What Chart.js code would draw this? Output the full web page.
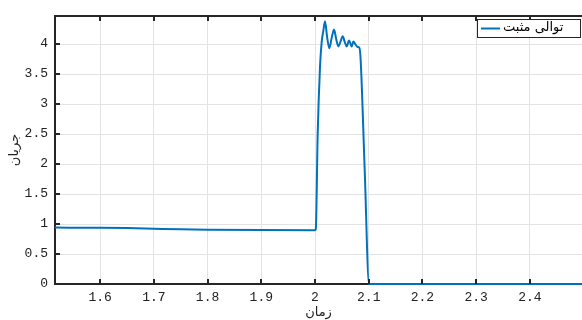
<!DOCTYPE html>
<html>
<head>
<meta charset="utf-8">
<script src="https://cdn.jsdelivr.net/npm/chart.js@4/dist/chart.umd.min.js"></script>
<style>
  html, body { margin: 0; padding: 0; background: #fff; }
  #wrap { width: 582px; height: 320px; }
</style>
</head>
<body>
<div id="wrap"><canvas id="currentChart" width="582" height="320"></canvas></div>
<script>
// time (s) and current samples
const timeValues = [
  1.516, 1.6, 1.65, 1.7, 1.75, 1.8, 1.9, 2.0, 2.0015,
  2.005, 2.0069, 2.0093, 2.0125, 2.0155, 2.0186, 2.0225, 2.0267,
  2.031, 2.0354, 2.0395, 2.0435, 2.0475, 2.0515, 2.0555, 2.059,
  2.0633, 2.0683, 2.0713, 2.0755, 2.0795, 2.0825, 2.085, 2.0925,
  2.1006, 2.2, 2.3, 2.4, 2.5
];
const currentValues = [
  0.94, 0.938, 0.932, 0.922, 0.912, 0.905, 0.898, 0.896, 0.92,
  2.51, 3.07, 3.62, 4.04, 4.22, 4.38, 4.12, 3.93,
  4.1, 4.24, 4.08, 3.96, 4.04, 4.13, 4.03, 3.96,
  4.06, 3.96, 4.04, 3.99, 3.95, 3.94, 3.73, 1.9,
  0, 0, 0, 0, 0
];
const xTicks = [1.6, 1.7, 1.8, 1.9, 2, 2.1, 2.2, 2.3, 2.4];
const yTicks = [0, 0.5, 1, 1.5, 2, 2.5, 3, 3.5, 4];
const seriesLabel = "توالی مثبت";
const xTitle = "زمان";
const yTitle = "جریان";

const tickFont = { family: "'Liberation Mono', 'DejaVu Sans Mono', monospace", size: 13 };
const titleFont = { family: "'DejaVu Sans', sans-serif", size: 13 };
const AXIS = "#262626";

// MATLAB-like frame: inward ticks, top border, boxed legend
const matlabFrame = {
  id: "matlabFrame",
  afterDraw(chart) {
    const { ctx, chartArea: a, scales } = chart;
    ctx.save();
    ctx.strokeStyle = AXIS;
    ctx.lineWidth = 2;
    ctx.beginPath();
    ctx.moveTo(a.left, a.top);
    ctx.lineTo(a.right + 2, a.top);
    ctx.stroke();
    ctx.beginPath();
    xTicks.forEach(v => {
      const px = Math.round(scales.x.getPixelForValue(v));
      ctx.moveTo(px, a.bottom); ctx.lineTo(px, a.bottom - 5);
      ctx.moveTo(px, a.top); ctx.lineTo(px, a.top + 5);
    });
    yTicks.forEach(v => {
      const py = Math.round(scales.y.getPixelForValue(v));
      ctx.moveTo(a.left, py); ctx.lineTo(a.left + 5, py);
    });
    ctx.stroke();

    // legend
    const bx = 477, by = 19, bw = 103, bh = 18;
    ctx.fillStyle = "#fff";
    ctx.fillRect(bx, by, bw, bh);
    ctx.lineWidth = 1;
    ctx.strokeStyle = AXIS;
    ctx.strokeRect(bx + 0.5, by + 0.5, bw, bh);
    ctx.strokeStyle = "#0072BD";
    ctx.lineWidth = 2;
    ctx.beginPath();
    ctx.moveTo(481, 28.5);
    ctx.lineTo(500, 28.5);
    ctx.stroke();
    ctx.fillStyle = "#000";
    ctx.font = "13px 'DejaVu Sans', sans-serif";
    ctx.textBaseline = "middle";
    ctx.textAlign = "left";
    ctx.fillText(seriesLabel, 503, 28);
    ctx.restore();
  }
};

new Chart(document.getElementById("currentChart"), {
  type: "line",
  data: {
    datasets: [{
      label: seriesLabel,
      data: timeValues.map((t, i) => ({ x: t, y: currentValues[i] })),
      borderColor: "#0072BD",
      borderWidth: 2,
      pointRadius: 0,
      cubicInterpolationMode: "monotone",
      clip: 3,
      fill: false
    }]
  },
  options: {
    responsive: false,
    animation: false,
    layout: { padding: { top: 16, right: 0, left: 7, bottom: 0 } },
    plugins: { legend: { display: false }, tooltip: { enabled: false } },
    scales: {
      x: {
        type: "linear",
        min: 1.516,
        max: 2.497,
        afterBuildTicks: s => { s.ticks = xTicks.map(v => ({ value: v })); },
        afterFit: s => { s.height = 36; },
        grid: { color: "#e3e3e3", drawTicks: false },
        border: { color: AXIS, width: 2 },
        ticks: { font: tickFont, color: "#222", padding: 6, maxRotation: 0,
                 callback: v => String(v) },
        title: { display: true, text: xTitle, color: "#222", font: titleFont,
                 padding: { top: 0, bottom: 0 } }
      },
      y: {
        min: 0,
        max: 4.467,
        afterBuildTicks: s => { s.ticks = yTicks.map(v => ({ value: v })); },
        afterFit: s => { s.width = 48; },
        grid: { color: "#e3e3e3", drawTicks: false },
        border: { color: AXIS, width: 2 },
        ticks: { font: tickFont, color: "#222", padding: 7,
                 callback: v => String(v) },
        title: { display: true, text: yTitle, color: "#222", font: titleFont,
                 padding: { top: 0, bottom: 0 } }
      }
    }
  },
  plugins: [matlabFrame]
});
</script>
</body>
</html>
